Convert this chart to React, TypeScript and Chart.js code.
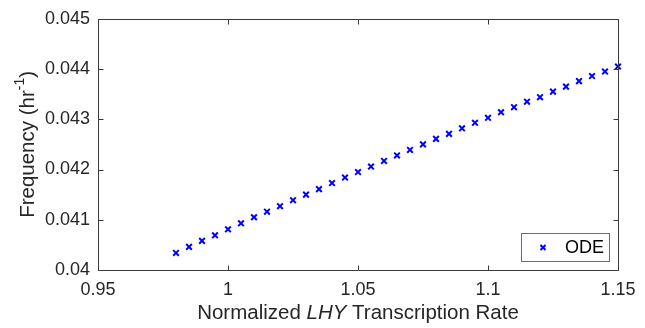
import { useEffect, useRef } from 'react';
import { Chart, registerables } from 'chart.js';

Chart.register(...registerables);

const rateValues = [
  0.98, 0.985, 0.99, 0.995, 1.0, 1.005, 1.01, 1.015, 1.02, 1.025, 1.03, 1.035,
  1.04, 1.045, 1.05, 1.055, 1.06, 1.065, 1.07, 1.075, 1.08, 1.085, 1.09, 1.095,
  1.1, 1.105, 1.11, 1.115, 1.12, 1.125, 1.13, 1.135, 1.14, 1.145, 1.15,
];
const frequencyValues = [
  0.04034, 0.04046, 0.04058, 0.04069, 0.04081, 0.04093, 0.04105, 0.04116, 0.04127,
  0.04139, 0.0415, 0.04161, 0.04173, 0.04184, 0.04195, 0.04206, 0.04217, 0.04228,
  0.04239, 0.0425, 0.04261, 0.04271, 0.04282, 0.04293, 0.04303, 0.04314, 0.04324,
  0.04335, 0.04344, 0.04355, 0.04365, 0.04376, 0.04386, 0.04395, 0.04405,
];
const xTickValues = [0.95, 1.0, 1.05, 1.1, 1.15];
const yTickValues = [0.04, 0.041, 0.042, 0.043, 0.044, 0.045];
const seriesLabel = 'ODE';

const FONT = '"Liberation Sans", Arial, Helvetica, sans-serif';
const TEXT = '#262626';
const AXIS = '#3a3a3a';
const BLUE = '#0000ff';

type Part = { text: string; italic?: boolean; sup?: boolean };

function drawRich(ctx: CanvasRenderingContext2D, parts: Part[], size: number) {
  const font = (p: Part) =>
    `${p.italic ? 'italic ' : ''}${p.sup ? Math.round(size * 0.7) : size}px ${FONT}`;
  let total = 0;
  const widths = parts.map((p) => {
    ctx.font = font(p);
    const w = ctx.measureText(p.text).width;
    total += w;
    return w;
  });
  let x = -total / 2;
  ctx.textBaseline = 'middle';
  ctx.textAlign = 'left';
  parts.forEach((p, i) => {
    ctx.font = font(p);
    ctx.fillText(p.text, x, p.sup ? -size * 0.38 : 0);
    x += widths[i];
  });
}

const fmt = (v: number) => String(Number(v.toFixed(4)));

const framePlugin = {
  id: 'matlabFrame',
  afterDraw(chart: any) {
    const { ctx, chartArea } = chart;
    const { left, right, top, bottom } = chartArea;
    const xs = chart.scales.x;
    const ys = chart.scales.y;
    ctx.save();
    ctx.strokeStyle = AXIS;
    ctx.lineWidth = 1;
    const L = Math.round(left) + 0.5;
    const R = Math.round(right) + 0.5;
    const T = Math.round(top) + 0.5;
    const B = Math.round(bottom) + 0.5;
    ctx.beginPath();
    ctx.rect(L, T, R - L, B - T);
    const tl = 5;
    xTickValues.forEach((v) => {
      const px = Math.round(xs.getPixelForValue(v)) + 0.5;
      ctx.moveTo(px, B);
      ctx.lineTo(px, B - tl);
      ctx.moveTo(px, T);
      ctx.lineTo(px, T + tl);
    });
    yTickValues.forEach((v) => {
      const py = Math.round(ys.getPixelForValue(v)) + 0.5;
      ctx.moveTo(L, py);
      ctx.lineTo(L + tl, py);
      ctx.moveTo(R, py);
      ctx.lineTo(R - tl, py);
    });
    ctx.stroke();

    // legend
    const lx = 521.5, ly = 233.5, lw = 88, lh = 28;
    ctx.fillStyle = '#ffffff';
    ctx.fillRect(lx, ly, lw, lh);
    ctx.strokeStyle = '#6e6e6e';
    ctx.strokeRect(lx, ly, lw, lh);
    const mx = 543, my = ly + lh / 2;
    ctx.strokeStyle = BLUE;
    ctx.lineWidth = 2;
    ctx.beginPath();
    ctx.moveTo(mx - 2.5, my - 2.5);
    ctx.lineTo(mx + 2.5, my + 2.5);
    ctx.moveTo(mx - 2.5, my + 2.5);
    ctx.lineTo(mx + 2.5, my - 2.5);
    ctx.stroke();
    ctx.fillStyle = '#000000';
    ctx.font = `18px ${FONT}`;
    ctx.textAlign = 'left';
    ctx.textBaseline = 'middle';
    ctx.fillText(seriesLabel, 565, my + 1);

    // axis titles
    ctx.fillStyle = TEXT;
    ctx.save();
    ctx.translate((left + right) / 2, 313);
    drawRich(
      ctx,
      [
        { text: 'Normalized ' },
        { text: 'LHY', italic: true },
        { text: ' Transcription Rate' },
      ],
      20.5
    );
    ctx.restore();
    ctx.save();
    ctx.translate(28, (top + bottom) / 2);
    ctx.rotate(-Math.PI / 2);
    drawRich(
      ctx,
      [{ text: 'Frequency (hr' }, { text: '-1', sup: true }, { text: ')' }],
      20.5
    );
    ctx.restore();
    ctx.restore();
  },
};

export default function App() {
  const ref = useRef<HTMLCanvasElement | null>(null);
  useEffect(() => {
    document.body.style.margin = '0';
    const canvas = ref.current;
    if (!canvas) return;
    const chart = new Chart(canvas, {
      type: 'scatter',
      data: {
        datasets: [
          {
            label: seriesLabel,
            data: rateValues.map((x, i) => ({ x, y: frequencyValues[i] })),
            pointStyle: 'crossRot',
            pointRadius: 4,
            pointBorderWidth: 2,
            borderColor: BLUE,
            backgroundColor: BLUE,
            clip: false as any,
          },
        ],
      },
      options: {
        responsive: false,
        animation: false,
        events: [],
        layout: { padding: { top: 15, right: 27, left: 0, bottom: 0 } },
        plugins: { legend: { display: false }, tooltip: { enabled: false } },
        scales: {
          x: {
            type: 'linear',
            min: 0.95,
            max: 1.15,
            grid: { display: false, drawTicks: false },
            border: { display: false },
            afterBuildTicks: (s: any) => {
              s.ticks = xTickValues.map((value) => ({ value }));
            },
            afterFit: (s: any) => {
              s.height = 58;
            },
            ticks: {
              padding: 9,
              color: TEXT,
              font: { family: FONT, size: 18 },
              maxRotation: 0,
              autoSkip: false,
              callback: (v: any) => fmt(Number(v)),
            },
          },
          y: {
            type: 'linear',
            min: 0.04,
            max: 0.045,
            grid: { display: false, drawTicks: false },
            border: { display: false },
            afterBuildTicks: (s: any) => {
              s.ticks = yTickValues.map((value) => ({ value }));
            },
            afterFit: (s: any) => {
              s.width = 98;
            },
            ticks: {
              padding: 8,
              color: TEXT,
              font: { family: FONT, size: 18 },
              autoSkip: false,
              callback: (v: any) => fmt(Number(v)),
            },
          },
        },
      },
      plugins: [framePlugin],
    });
    return () => chart.destroy();
  }, []);
  return (
    <div style={{ width: 645, height: 328, background: '#ffffff' }}>
      <canvas ref={ref} width={645} height={328} style={{ display: 'block' }} />
    </div>
  );
}
